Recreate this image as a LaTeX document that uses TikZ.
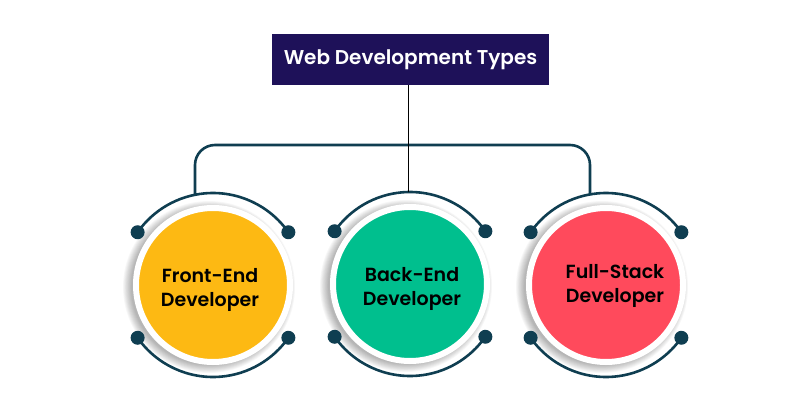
\documentclass[tikz,border=0pt]{standalone}
\usepackage{fontspec}
\setmainfont{Poppins}[BoldFont={Poppins SemiBold}]
\usetikzlibrary{calc}
\definecolor{navy}{HTML}{0F3E51}
\definecolor{titlebg}{HTML}{1E1159}
\definecolor{cyellow}{HTML}{FDB913}
\definecolor{cgreen}{HTML}{00BF8E}
\definecolor{cred}{HTML}{FF4A5C}
\begin{document}
\begin{tikzpicture}[x=1pt,y=1pt,
  devnode/.style={circle, minimum size=154pt, inner sep=0pt, draw=white, line width=6pt},
  devtext/.style={font=\bfseries\fontsize{19}{24.5}\selectfont, align=center, text=black},
  arcline/.style={draw=navy, line width=2.6pt},
  dotnode/.style={circle, fill=navy, minimum size=14pt, inner sep=0pt},
  titlebox/.style={fill=titlebg, text=white, minimum width=277pt, minimum height=51pt, inner sep=0pt,
    font=\bfseries\fontsize{20}{22}\selectfont},
  bracket/.style={draw=navy, line width=2.6pt, rounded corners=20pt},
]
\useasboundingbox (0,0) rectangle (800,400);
\fill[white] (0,0) rectangle (800,400);

\node[titlebox] (title) at (410.5,340.5) {Web Development Types};

\foreach \cx/\cy/\col/\nm/\txt/\dx/\dy in {213/115/cyellow/fe/{Front-End\\Developer}/-3/-5,
                                         410/116/cgreen/be/{Back-End\\Developer}/2/-5,
                                         606/115/cred/fs/{Full-Stack\\Developer}/9/-1}{
  \foreach \k in {1,...,10}{
    \fill[black, opacity=0.03] (\cx-4,\cy-2) circle ({77+\k*0.9});
  }
  \draw[arcline] ($(\cx,\cy)+(35:92)$) arc[start angle=35, end angle=145, radius=92];
  \draw[arcline] ($(\cx,\cy)+(215:92)$) arc[start angle=215, end angle=325, radius=92];
  \node[dotnode] (\nm-d1) at ($(\cx,\cy)+(35:92)$) {};
  \node[dotnode] (\nm-d2) at ($(\cx,\cy)+(145:92)$) {};
  \node[dotnode] (\nm-d3) at ($(\cx,\cy)+(215:92)$) {};
  \node[dotnode] (\nm-d4) at ($(\cx,\cy)+(325:92)$) {};
  \node[devnode, fill=\col] (\nm) at (\cx,\cy) {};
  \node[devtext] (\nm-t) at (\cx+\dx,\cy+\dy) {\txt};
}

\coordinate (lt) at (195,205.2);
\coordinate (rt) at (590,205.6);
\coordinate (mt) at (408,208);
\draw[bracket] (lt) -- (195,255) -- (590,255) -- (rt);
\draw[black, line width=1pt] (title.south -| mt) -- (mt);
\end{tikzpicture}
\end{document}
